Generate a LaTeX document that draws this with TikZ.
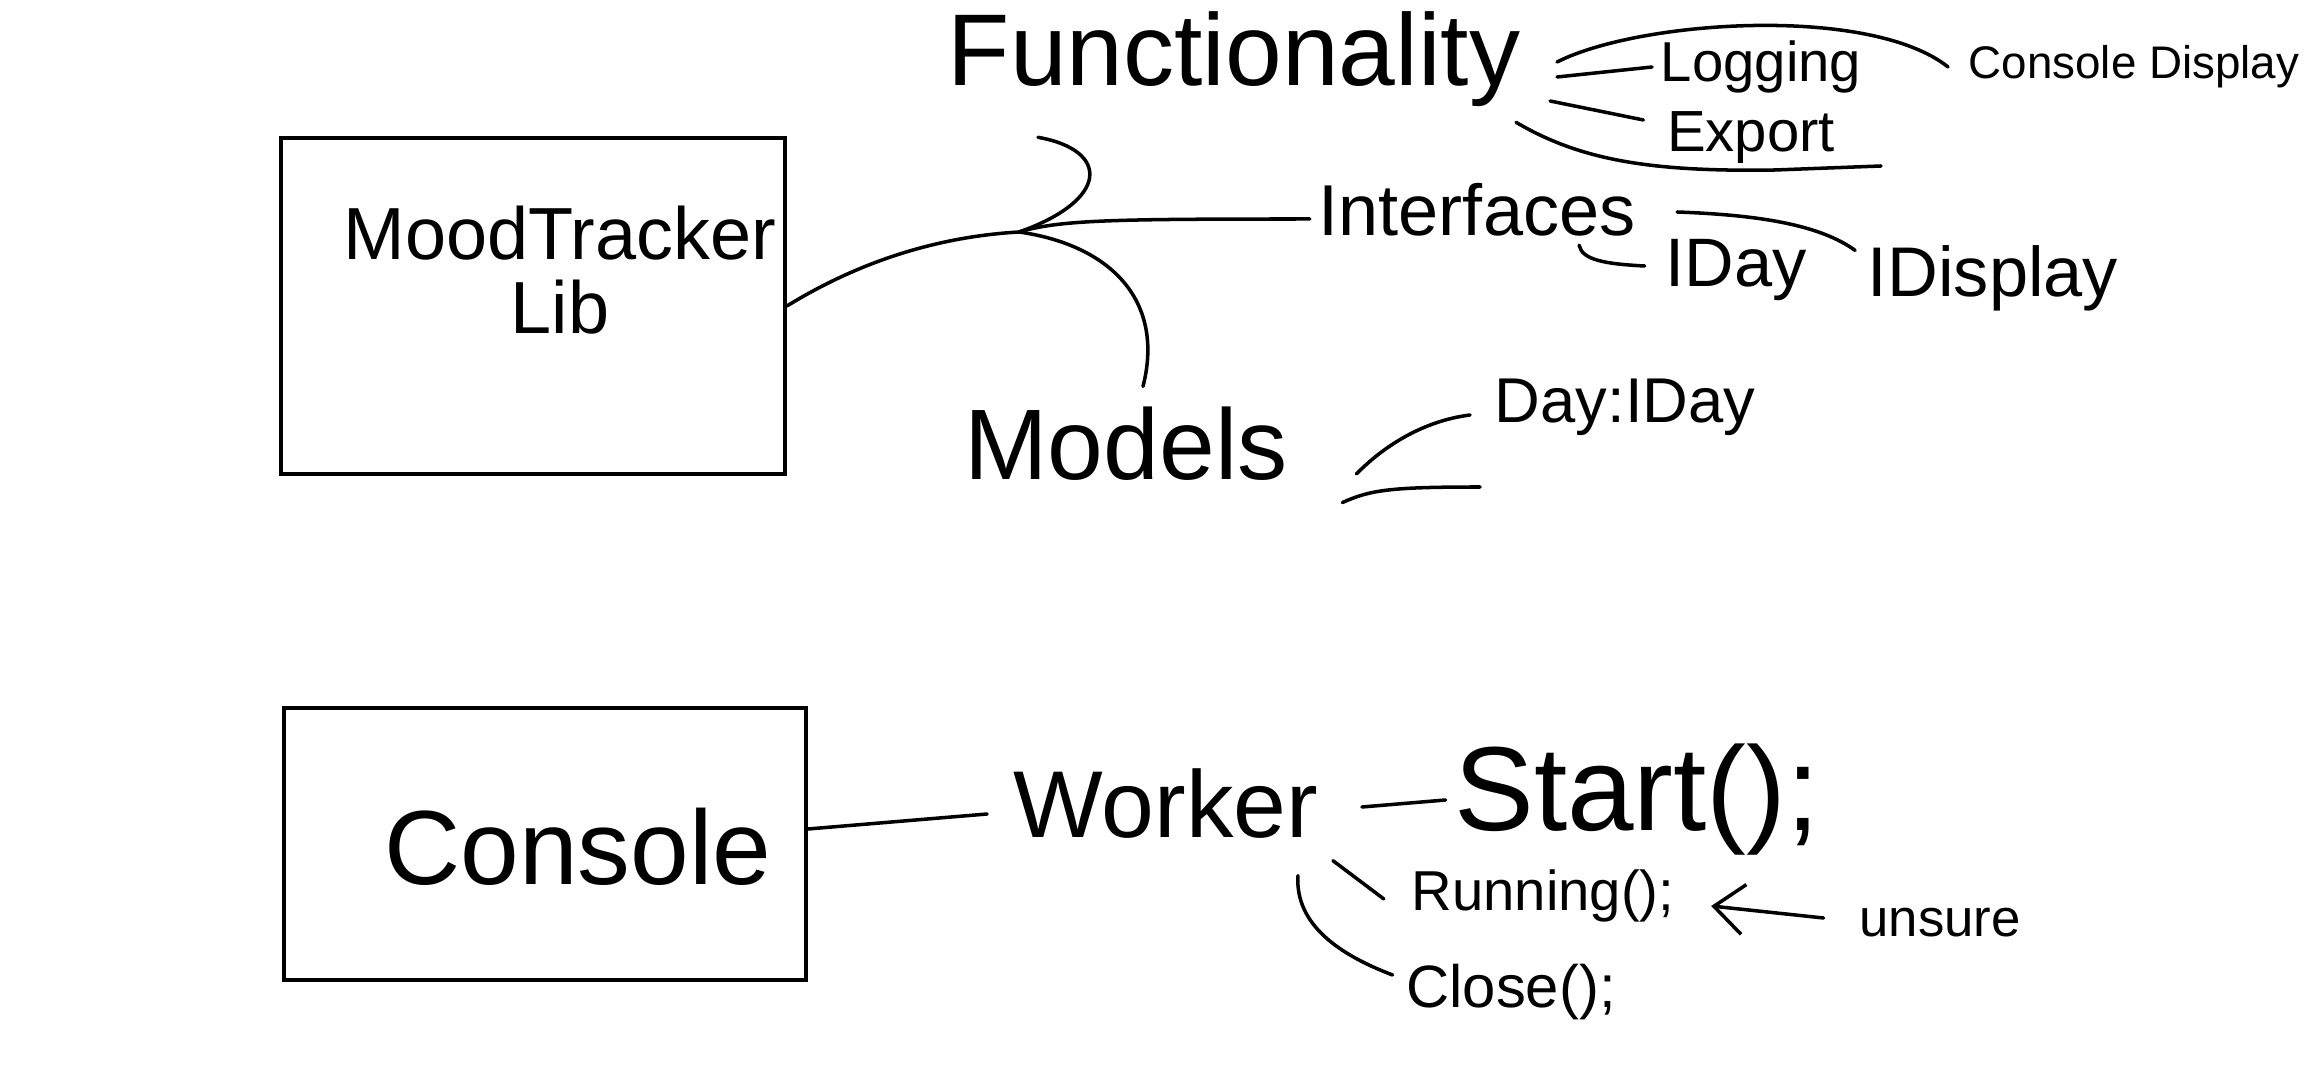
\documentclass[tikz,border=0pt]{standalone}
\usepackage{fontspec}
\setmainfont{Liberation Sans}
\usetikzlibrary{arrows.meta}
\newcommand{\penfs}[1]{\fontsize{#1}{#1}\selectfont}

\begin{document}
\begin{tikzpicture}[x=0.01cm, y=-0.01cm, line width=1pt, line cap=round]
    \useasboundingbox (0,0) rectangle (2322,1086);

    \begin{scope}[every node/.style={draw, line width=1pt, inner sep=0pt}]
        \node (mtlib) [minimum width=5.04cm, minimum height=3.36cm] at (533,306) {};
        \node (conbox) [minimum width=5.22cm, minimum height=2.72cm] at (545,844) {};
    \end{scope}

    \begin{scope}[every node/.style={inner sep=2pt, align=center}]
        \node (mtlibtext) [font=\penfs{21}] at (560,270) {MoodTracker\\Lib};
        \node (context) [font=\penfs{30}] at (578,847) {Console};
        \node (func) [font=\penfs{29}] at (1234,59) {Functionality};
        \node (log) [font=\penfs{16}] at (1761,67) {Logging};
        \node (cdisp) [font=\penfs{13}] at (2134,67) {Console Display};
        \node (exp) [font=\penfs{16.5}] at (1751,138) {Export};
        \node (intf) [font=\penfs{20.5}] at (1477,210) {Interfaces};
        \node (iday) [font=\penfs{19.5}] at (1736,270) {IDay};
        \node (idisp) [font=\penfs{20}] at (1993,278) {IDisplay};
        \node (models) [font=\penfs{28.5}] at (1126,444) {Models};
        \node (dayiday) [font=\penfs{18}] at (1625,407) {Day:IDay};
        \node (worker) [font=\penfs{27}] at (1166,804) {Worker};
        \node (start) [font=\penfs{34}] at (1637,800) {Start();};
        \node (running) [font=\penfs{16}] at (1543,896) {Running();};
        \node (unsure) [font=\penfs{15}] at (1940,923) {unsure};
        \node (close) [font=\penfs{17}] at (1511,992) {Close();};
    \end{scope}

    % loose ends
    \coordinate (hub) at (1019,232);
    \coordinate (expfoot) at (1881,166);
    \coordinate (dayfoot) at (1480,487);

    % library tree
    \draw (mtlib.east) .. controls (870,255) and (950,236) .. (hub);
    \draw (hub) .. controls (1060,220) and (1110,219) .. ([shift={(0,9)}]intf.west);
    \draw (hub) .. controls (1110,200) and (1110,150) .. ([shift={(99,22)}]func.south west);
    \draw (hub) .. controls (1110,245) and (1165,300) .. ([shift={(17,-12)}]models.north);

    \begin{scope}[every edge/.style={draw, line width=1pt}]
        \path [-] ([shift={(28,18)}]func.east) edge (log.west);
        \path [-] ([shift={(21,42)}]func.east) edge ([shift={(-15,-18)}]exp.west);
    \end{scope}
    \draw ([shift={(28,3)}]func.east) .. controls (1640,20) and (1870,5) .. ([shift={(-12,0)}]cdisp.west);
    \draw ([shift={(-13,7)}]func.south east) .. controls (1580,160) and (1650,172) .. (1775,170) -- (expfoot);

    \draw ([shift={(33,2)}]intf.east) .. controls (1760,215) and (1820,225) .. ([shift={(-4,14)}]idisp.north west);
    \draw ([shift={(-65,0)}]intf.south east) .. controls (1582,260) and (1605,264) .. ([shift={(-12,-4)}]iday.west);

    \draw ([shift={(60,30)}]models.east) .. controls (1390,440) and (1430,420) .. ([shift={(-16,8)}]dayiday.west);
    \draw ([shift={(46,13)}]models.south east) .. controls (1370,490) and (1390,487) .. (dayfoot);

    % console tree
    \begin{scope}[every edge/.style={draw, line width=1pt}]
        \path [-] ([shift={(0,-15)}]conbox.east) edge ([shift={(-18,10)}]worker.west);
        \path [-] ([shift={(35,3)}]worker.east) edge (start.west);
        \path [-] ([shift={(6,13)}]worker.south east) edge ([shift={(-19,3)}]running.west);
        \path [-{Straight Barb[length=3mm, width=5mm]}] ([shift={(-27,-5)}]unsure.west) edge ([shift={(28,10)}]running.east);
    \end{scope}
    \draw ([shift={(-29,28)}]worker.south east) .. controls (1295,925) and (1340,955) .. ([shift={(-5,-17)}]close.west);
\end{tikzpicture}
\end{document}
